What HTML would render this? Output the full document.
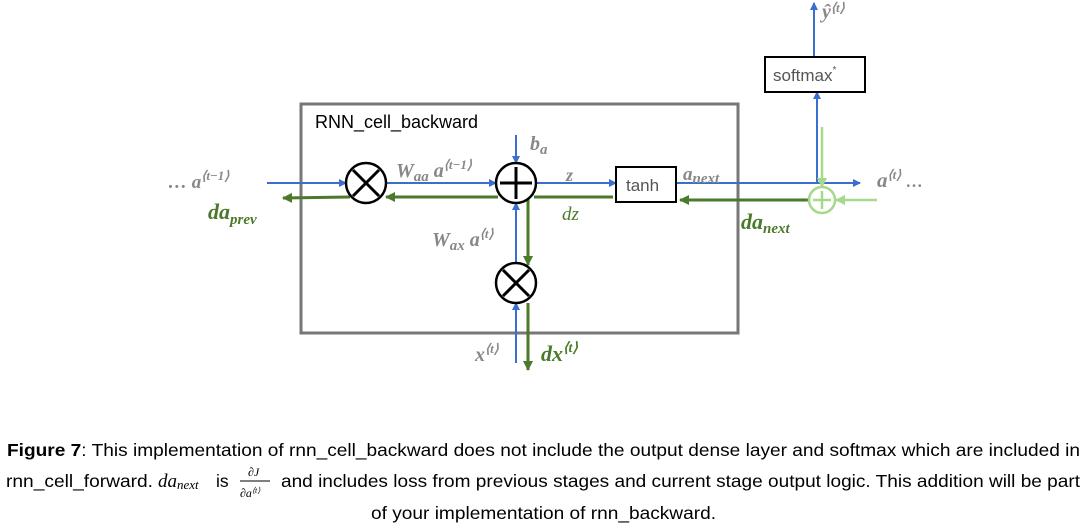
<!DOCTYPE html>
<html><head><meta charset="utf-8"><style>
body{margin:0;background:#fff;width:1087px;height:532px;overflow:hidden}
svg{display:block}
.g{fill:#888;font-family:"Liberation Serif",serif;font-style:italic;font-weight:bold}
.gr{fill:#4a7a2a;font-family:"Liberation Serif",serif;font-style:italic;font-weight:bold}
.cap{font-family:"Liberation Sans",sans-serif;font-size:17.5px;fill:#000}
</style></head><body>
<svg width="1087" height="532" viewBox="0 0 1087 532" xmlns="http://www.w3.org/2000/svg">
<defs>
<marker id="ab" markerWidth="8" markerHeight="8" refX="7" refY="4" orient="auto" markerUnits="userSpaceOnUse"><path d="M0,0 L8,4 L0,8z" fill="#3a6fd0"/></marker>
<marker id="ag" markerWidth="10" markerHeight="10" refX="9" refY="5" orient="auto" markerUnits="userSpaceOnUse"><path d="M0,0 L10,5 L0,10z" fill="#4a7a2a"/></marker>
<marker id="al" markerWidth="10" markerHeight="10" refX="9" refY="5" orient="auto" markerUnits="userSpaceOnUse"><path d="M0,0 L10,5 L0,10z" fill="#a6d98c"/></marker>
</defs>
<rect x="301" y="104" width="437" height="229" fill="none" stroke="#777" stroke-width="3"/>
<text x="315" y="128" font-family="Liberation Sans,sans-serif" font-size="18">RNN_cell_backward</text>
<g stroke="#3a6fd0" stroke-width="2" fill="none">
<line x1="267" y1="183" x2="346" y2="183" marker-end="url(#ab)"/>
<line x1="386" y1="183" x2="496" y2="183" marker-end="url(#ab)"/>
<line x1="536" y1="183" x2="616" y2="183" marker-end="url(#ab)"/>
<line x1="676" y1="183" x2="860" y2="183" marker-end="url(#ab)"/>
<line x1="516" y1="135" x2="516" y2="163" marker-end="url(#ab)"/>
<line x1="516" y1="263" x2="516" y2="203" marker-end="url(#ab)"/>
<line x1="516" y1="363" x2="516" y2="303" marker-end="url(#ab)"/>
<line x1="817" y1="183" x2="817" y2="92" marker-end="url(#ab)"/>
<line x1="814" y1="57" x2="814" y2="3" marker-end="url(#ab)"/>
</g>
<g stroke="#4a7a2a" stroke-width="3" fill="none">
<line x1="498" y1="197" x2="386" y2="197" marker-end="url(#ag)"/>
<line x1="350" y1="197" x2="283" y2="198" marker-end="url(#ag)"/>
<line x1="534" y1="197" x2="613" y2="197"/>
<line x1="528" y1="197" x2="528" y2="265" marker-end="url(#ag)"/>
<line x1="528" y1="303" x2="528" y2="370" marker-end="url(#ag)"/>
<line x1="808" y1="200" x2="680" y2="200" marker-end="url(#ag)"/>
</g>
<g stroke="#a6d98c" stroke-width="2.5" fill="none">
<line x1="822" y1="127" x2="822" y2="187" marker-end="url(#al)"/>
<line x1="877" y1="200" x2="836" y2="200" marker-end="url(#al)"/>
<circle cx="822" cy="200" r="13" fill="#fff"/>
<line x1="813" y1="200" x2="831" y2="200"/><line x1="822" y1="191" x2="822" y2="209"/>
</g>
<g stroke="#000" stroke-width="2.5" fill="#fff">
<circle cx="366" cy="183" r="20"/><circle cx="516" cy="183" r="20"/><circle cx="516" cy="283" r="20"/>
</g>
<g stroke="#000" stroke-width="3">
<line x1="353" y1="170" x2="379" y2="196"/><line x1="379" y1="170" x2="353" y2="196"/>
<line x1="503" y1="270" x2="529" y2="296"/><line x1="529" y1="270" x2="503" y2="296"/>
<line x1="500" y1="183" x2="532" y2="183"/><line x1="516" y1="167" x2="516" y2="199"/>
</g>
<rect x="616" y="167" width="60" height="35" fill="#fff" stroke="#000" stroke-width="2"/>
<text x="626" y="191" font-family="Liberation Sans,sans-serif" font-size="17" fill="#555">tanh</text>
<rect x="765" y="57" width="100" height="35" fill="#fff" stroke="#000" stroke-width="2"/>
<text x="773" y="81" font-family="Liberation Sans,sans-serif" font-size="17" fill="#555">softmax<tspan font-size="10" dy="-8">*</tspan></text>
<text x="168" y="188" class="g" font-size="19">… a<tspan font-size="13" dy="-8">⟨t−1⟩</tspan></text>
<text x="208" y="219" class="gr" font-size="22">da<tspan font-size="15" dy="5">prev</tspan></text>
<text x="396" y="177" class="g" font-size="20">W<tspan font-size="15" dy="4">aa</tspan><tspan dy="-4"> a</tspan><tspan font-size="13" dy="-8">⟨t−1⟩</tspan></text>
<text x="530" y="150" class="g" font-size="20" font-weight="normal">b<tspan font-size="15" dy="4">a</tspan></text>
<text x="566" y="181" class="g" font-size="18" font-weight="normal">z</text>
<text x="562" y="220" fill="#4a7a2a" font-family="Liberation Serif,serif" font-style="italic" font-size="19">dz</text>
<text x="432" y="246" class="g" font-size="20">W<tspan font-size="15" dy="4">ax</tspan><tspan dy="-4"> a</tspan><tspan font-size="13" dy="-8">⟨t⟩</tspan></text>
<text x="475" y="361" class="g" font-size="20">x<tspan font-size="13" dy="-8">⟨t⟩</tspan></text>
<text x="541" y="361" class="gr" font-size="22">dx<tspan font-size="14" dy="-9">⟨t⟩</tspan></text>
<text x="683" y="180" class="g" font-size="19" font-weight="normal">a<tspan font-size="15" dy="3">next</tspan></text>
<text x="741" y="229" class="gr" font-size="22">da<tspan font-size="15" dy="4">next</tspan></text>
<text x="877" y="187" class="g" font-size="21">a<tspan font-size="13" dy="-8">⟨t⟩</tspan><tspan dy="8" font-style="normal" font-size="17"> …</tspan></text>
<text x="822" y="18" class="g" font-size="20">ŷ<tspan font-size="13" dy="-6">⟨t⟩</tspan></text>
<text x="7" y="456" class="cap" textLength="1073" lengthAdjust="spacingAndGlyphs"><tspan font-weight="bold">Figure 7</tspan>: This implementation of rnn_cell_backward does not include the output dense layer and softmax which are included in</text>
<text x="6" y="487" class="cap" textLength="147" lengthAdjust="spacingAndGlyphs">rnn_cell_forward.</text>
<text x="158" y="487" font-family="Liberation Serif,serif" font-style="italic" font-size="19">da<tspan font-size="13" dy="2">next</tspan></text>
<text x="216" y="487" class="cap">is</text>
<text x="248" y="476" font-family="Liberation Serif,serif" font-style="italic" font-size="12">∂J</text>
<line x1="240" y1="481" x2="270" y2="481" stroke="#000" stroke-width="1"/>
<text x="240" y="497" font-family="Liberation Serif,serif" font-style="italic" font-size="12">∂a<tspan font-size="8" dy="-4">⟨t⟩</tspan></text>
<text x="281" y="487" class="cap" textLength="799" lengthAdjust="spacingAndGlyphs">and includes loss from previous stages and current stage output logic. This addition will be part</text>
<text x="371" y="519" class="cap" textLength="345" lengthAdjust="spacingAndGlyphs">of your implementation of rnn_backward.</text>
</svg>
</body></html>
